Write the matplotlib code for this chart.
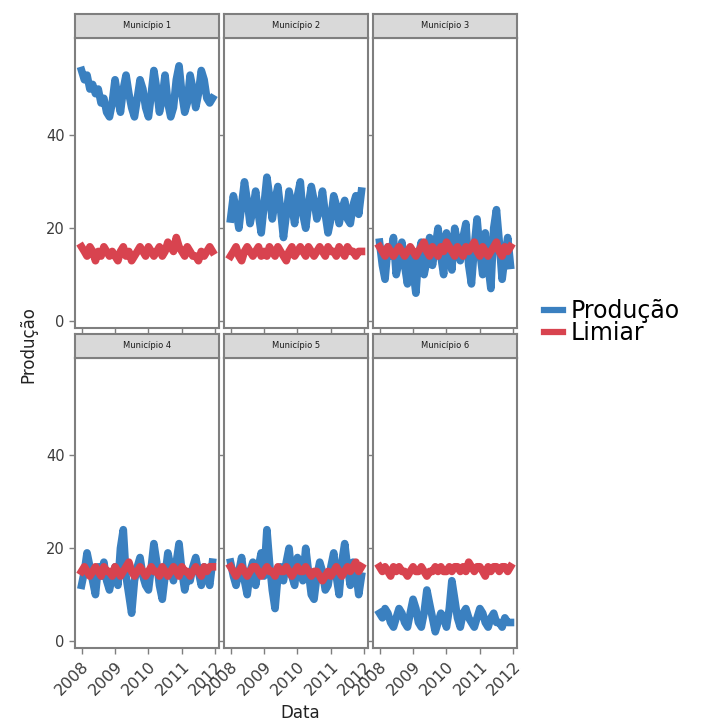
import numpy as np
import pandas as pd
import matplotlib
matplotlib.use("Agg")
import matplotlib.pyplot as plt
import matplotlib.dates as mdates
from matplotlib.lines import Line2D

# monthly series, Jan 2008 .. Dec 2011
datas = pd.date_range("2008-01-01", periods=48, freq="MS")

municipios = ["Município 1", "Município 2", "Município 3",
              "Município 4", "Município 5", "Município 6"]

producao_1 = [54, 52, 53, 50, 51, 49, 50, 47, 48, 45, 44, 47, 52, 48, 45, 50,
              53, 49, 46, 44, 48, 52, 50, 46, 44, 49, 54, 50, 45, 48, 53, 47,
              44, 46, 52, 55, 49, 45, 47, 53, 50, 46, 49, 54, 52, 48, 47, 48]
limiar_1 = [16, 15, 14, 16, 15, 13, 15, 14, 16, 15, 14, 15, 14, 13, 15, 16,
            14, 15, 13, 14, 15, 16, 15, 14, 16, 15, 14, 15, 16, 14, 15, 17,
            16, 15, 18, 16, 15, 14, 16, 15, 14, 14, 13, 15, 14, 15, 16, 15]

producao_2 = [22, 27, 24, 20, 25, 30, 26, 21, 24, 28, 23, 19, 25, 31, 27, 22,
              26, 29, 24, 18, 23, 28, 25, 21, 27, 30, 23, 20, 25, 29, 26, 22,
              24, 28, 23, 19, 22, 27, 25, 21, 24, 26, 22, 21, 25, 27, 23, 28]
limiar_2 = [14, 15, 16, 14, 13, 15, 16, 15, 14, 15, 16, 14, 15, 14, 16, 15,
            14, 16, 15, 14, 13, 15, 16, 14, 15, 16, 15, 14, 16, 15, 14, 15,
            16, 15, 14, 16, 15, 15, 14, 16, 15, 14, 16, 15, 15, 14, 15, 15]

producao_3 = [17, 12, 9, 16, 14, 18, 10, 13, 17, 12, 8, 15, 11, 6, 14, 17,
              10, 13, 18, 12, 16, 20, 14, 10, 19, 15, 11, 20, 17, 13, 18, 21,
              12, 8, 16, 22, 15, 10, 19, 12, 7, 20, 24, 17, 9, 14, 18, 12]
limiar_3 = [16, 15, 14, 16, 15, 14, 15, 16, 15, 14, 15, 16, 15, 14, 15, 16,
            17, 15, 14, 16, 15, 14, 16, 15, 17, 16, 15, 14, 16, 15, 14, 16,
            15, 16, 17, 15, 14, 16, 15, 14, 15, 16, 17, 15, 14, 16, 15, 16]

producao_4 = [12, 15, 19, 16, 13, 10, 16, 14, 17, 13, 11, 14, 16, 12, 20, 24,
              14, 10, 6, 13, 16, 18, 14, 12, 11, 16, 21, 17, 12, 9, 14, 19,
              16, 13, 17, 21, 15, 11, 14, 13, 16, 18, 15, 12, 16, 14, 12, 17]
limiar_4 = [15, 16, 15, 14, 15, 16, 15, 14, 16, 15, 15, 14, 16, 15, 14, 15,
            16, 17, 15, 14, 15, 16, 15, 14, 15, 16, 15, 15, 14, 16, 15, 14,
            15, 16, 15, 14, 16, 15, 15, 14, 15, 16, 15, 14, 16, 15, 16, 16]

producao_5 = [17, 14, 12, 15, 18, 13, 10, 15, 17, 12, 16, 19, 14, 24, 17, 11,
              7, 14, 16, 13, 17, 20, 14, 12, 18, 16, 13, 20, 15, 10, 9, 14,
              17, 15, 11, 12, 16, 19, 14, 10, 17, 21, 16, 12, 17, 15, 10, 14]
limiar_5 = [16, 15, 14, 15, 16, 15, 14, 15, 16, 16, 15, 14, 15, 16, 15, 15,
            14, 16, 15, 15, 16, 15, 14, 15, 16, 15, 15, 16, 15, 14, 15, 15,
            14, 13, 14, 15, 14, 15, 16, 15, 14, 15, 16, 15, 16, 17, 15, 16]

producao_6 = [6, 5, 7, 6, 4, 3, 5, 7, 6, 4, 3, 6, 9, 7, 4, 3,
              6, 11, 8, 5, 2, 4, 6, 5, 3, 7, 13, 9, 5, 3, 6, 7,
              5, 4, 3, 5, 7, 6, 4, 3, 5, 6, 4, 4, 3, 5, 4, 4]
limiar_6 = [16, 15, 16, 15, 14, 16, 15, 16, 15, 15, 14, 15, 16, 15, 15, 16,
            15, 14, 15, 15, 16, 15, 16, 15, 15, 16, 15, 16, 16, 15, 16, 15,
            17, 16, 15, 16, 16, 15, 14, 16, 15, 16, 16, 15, 16, 16, 15, 16]

producao = [producao_1, producao_2, producao_3, producao_4, producao_5, producao_6]
limiar = [limiar_1, limiar_2, limiar_3, limiar_4, limiar_5, limiar_6]

azul = "#3A80C0"
vermelho = "#D8434F"
cinza = "#7F7F7F"

W, H = 702, 727
fig = plt.figure(figsize=(W / 100, H / 100), dpi=100)

col_x = [75, 224, 373]
row_y = [38, 358]
pw, ph, strip_h = 144, 290, 24

span = datas[-1] - datas[0]
xlim = (datas[0] - span * 0.05, datas[-1] + span * 0.05)
ticks = pd.to_datetime(["2008-01-01", "2009-01-01", "2010-01-01",
                        "2011-01-01", "2012-01-01"])

for i in range(6):
    r, c = divmod(i, 3)
    x0, y0 = col_x[c], row_y[r]
    ax = fig.add_axes([x0 / W, 1 - (y0 + ph) / H, pw / W, ph / H])
    ax.plot(datas, producao[i], color=azul, lw=5.5)
    ax.plot(datas, limiar[i], color=vermelho, lw=5.5)
    ax.set_xlim(*xlim)
    ax.set_ylim(-1.5, 61)
    ax.set_xticks(ticks)
    ax.xaxis.set_major_formatter(mdates.DateFormatter("%Y"))
    ax.set_yticks([0, 20, 40])
    for s in ax.spines.values():
        s.set_color(cinza)
        s.set_linewidth(1.5)
    ax.tick_params(colors=cinza, labelcolor="#3C3C3C", length=4, width=1,
                   labelsize=10.5)
    if r == 0:
        ax.tick_params(labelbottom=False)
    else:
        ax.tick_params(axis="x", labelsize=11.5)
        for lab in ax.get_xticklabels():
            lab.set_rotation(45)
            lab.set_ha("right")
            lab.set_rotation_mode("anchor")
    if c != 0:
        ax.tick_params(labelleft=False)

    sax = fig.add_axes([x0 / W, 1 - y0 / H, pw / W, strip_h / H])
    sax.set_facecolor("#D9D9D9")
    sax.set_xticks([])
    sax.set_yticks([])
    for s in sax.spines.values():
        s.set_color(cinza)
        s.set_linewidth(1.5)
    sax.text(0.5, 0.5, municipios[i], ha="center", va="center",
             fontsize=6, color="#1A1A1A", transform=sax.transAxes)

fig.text(28 / W, 1 - 345 / H, "Produção", rotation=90, ha="center",
         va="center", fontsize=12, color="#222222")
fig.text(300 / W, 1 - 713 / H, "Data", ha="center", va="center",
         fontsize=12, color="#222222")

handles = [Line2D([], [], color=azul, lw=4.5),
           Line2D([], [], color=vermelho, lw=4.5)]
fig.legend(handles, ["Produção", "Limiar"], loc="center left",
           bbox_to_anchor=(535 / W, 1 - 322 / H), frameon=False,
           fontsize=17, handlelength=0.8, handletextpad=0.3,
           labelspacing=-0.1, borderaxespad=0)

fig.savefig("out.png", dpi=100)
